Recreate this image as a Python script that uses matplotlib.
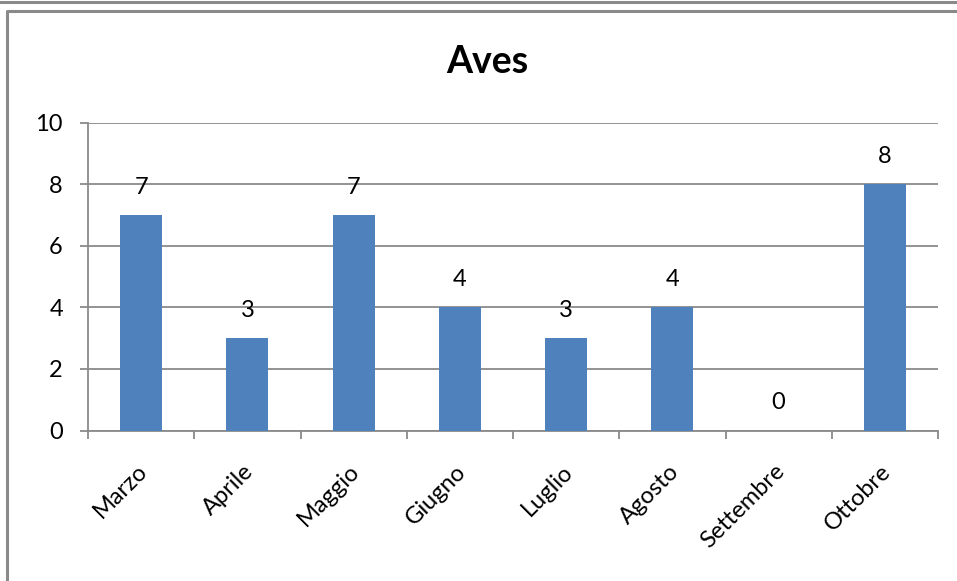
import matplotlib
matplotlib.use("Agg")
import matplotlib.pyplot as plt
from matplotlib.lines import Line2D
import matplotlib.transforms as mtransforms
import numpy as np

categories = ["Marzo", "Aprile", "Maggio", "Giugno", "Luglio", "Agosto", "Settembre", "Ottobre"]
values = [7, 3, 7, 4, 3, 4, 0, 8]
yticks = [0, 2, 4, 6, 8, 10]
title = "Aves"

plt.rcParams['font.family'] = ['Lato', 'DejaVu Sans']

W, H = 957, 581
fig = plt.figure(figsize=(W / 100, H / 100), dpi=100)

gray = "#8a8a8a"
# outer frames
fig.add_artist(Line2D([0, 1], [1 - 1.5 / H, 1 - 1.5 / H], transform=fig.transFigure, color=gray, lw=2.2))
fig.add_artist(Line2D([7 / W, 7 / W, 1.01], [-0.01, 1 - 10.5 / H, 1 - 10.5 / H], transform=fig.transFigure, color=gray, lw=2.2))

ax = fig.add_axes([88 / W, 1 - 430.5 / H, (938 - 88) / W, (430.5 - 122.5) / H])
x = np.arange(len(categories))
bars = ax.bar(x, values, width=0.395, color="#4F81BD", zorder=3)

ax.set_xlim(-0.5, len(categories) - 0.5)
ax.set_ylim(0, 10)
ax.set_yticks(yticks)
ax.set_yticklabels([str(t) for t in yticks], fontsize=17)
ax.yaxis.grid(True, color=gray, lw=1.3, zorder=0)
ax.tick_params(axis='y', length=6, width=1.3, color=gray, pad=12)

# category boundary ticks on x axis
ax.set_xticks(np.arange(-0.5, len(categories) + 0.5, 1.0))
ax.set_xticklabels([])
ax.tick_params(axis='x', which='major', length=6, width=1.3, color=gray)
ax.set_xticks(x, minor=True)
ax.set_xticklabels(categories, minor=True, rotation=45, ha='right', va='center',
                   rotation_mode='anchor', fontsize=17)
ax.tick_params(axis='x', which='minor', length=0, pad=27)
shift = mtransforms.ScaledTranslation(3 / 100, 0, fig.dpi_scale_trans)
for lbl in ax.get_xticklabels(minor=True):
    lbl.set_transform(lbl.get_transform() + shift)

for s in ["top", "right"]:
    ax.spines[s].set_visible(False)
for s in ["left", "bottom"]:
    ax.spines[s].set_color(gray)
    ax.spines[s].set_linewidth(1.3)

for xi, v in zip(x, values):
    ax.annotate(str(v), (xi, v), xytext=(0, 20), textcoords="offset points",
                ha='center', va='center', fontsize=17)

fig.text(487 / W, 1 - 62 / H, title, ha='center', va='center', fontsize=27, fontweight='bold')

fig.savefig("out.png", dpi=100)
